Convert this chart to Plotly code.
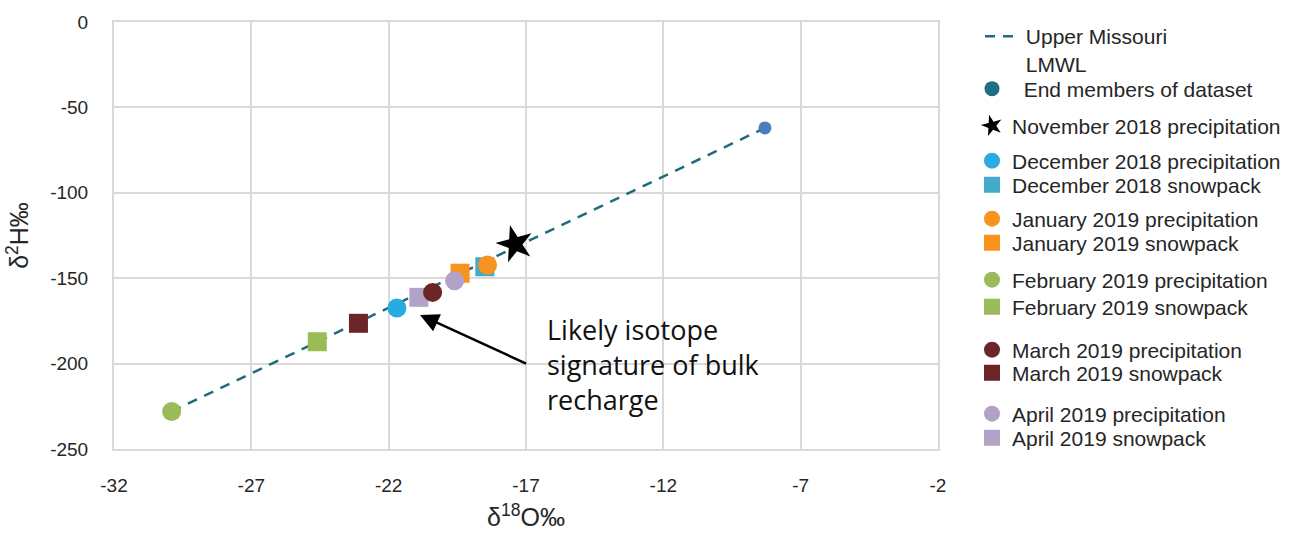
import plotly.graph_objects as go

# --- data -------------------------------------------------------------
# Upper Missouri LMWL end members (d18O, d2H)
END_X = [-29.9, -8.3]
END_Y = [-228.0, -62.0]

NOV_PRECIP_X = [-17.4]
NOV_PRECIP_Y = [-130.0]

DEC_PRECIP_X = [-21.7]
DEC_PRECIP_Y = [-167.5]
DEC_SNOW_X = [-18.5]
DEC_SNOW_Y = [-143.3]

JAN_PRECIP_X = [-18.4]
JAN_PRECIP_Y = [-142.3]
JAN_SNOW_X = [-19.4]
JAN_SNOW_Y = [-147.1]

FEB_PRECIP_X = [-29.9]
FEB_PRECIP_Y = [-228.0]
FEB_SNOW_X = [-24.6]
FEB_SNOW_Y = [-187.2]

MAR_PRECIP_X = [-20.4]
MAR_PRECIP_Y = [-158.3]
MAR_SNOW_X = [-23.1]
MAR_SNOW_Y = [-176.4]

APR_PRECIP_X = [-19.6]
APR_PRECIP_Y = [-151.5]
APR_SNOW_X = [-20.9]
APR_SNOW_Y = [-161.2]

X_TICKS = [-32, -27, -22, -17, -12, -7, -2]
Y_TICKS = [0, -50, -100, -150, -200, -250]

# --- layout helpers ---------------------------------------------------
L, R, T, B = 114, 351, 22, 85
W, H = 1289, 534
PW, PH = W - L - R, H - T - B


def px_x(p):
    return (p - L) / PW


def px_y(p):
    return (H - B - p) / PH


LEG_FONT = dict(family="Liberation Sans, Arial, sans-serif", size=21, color="#262626")
TICK_FONT = dict(family="Liberation Sans, Arial, sans-serif", size=19, color="#262626")

fig = go.Figure()
legends = {}


def add_legend(key, ypix, xpix=972, yanchor="middle"):
    legends[key] = dict(
        x=px_x(xpix), y=px_y(ypix), xref="paper", yref="paper",
        xanchor="left", yanchor=yanchor, bgcolor="rgba(0,0,0,0)",
        borderwidth=0, font=LEG_FONT, valign="top", itemclick=False,
        itemdoubleclick=False,
    )


# LMWL
fig.add_trace(go.Scatter(
    x=END_X, y=END_Y, mode="lines", name="\u00a0Upper Missouri<br>\u00a0LMWL",
    line=dict(color="#1F6B7B", width=2.5, dash="10px,8px"), legend="legend",
))
add_legend("legend", 16, xpix=980, yanchor="top")

# end members (marks on the chart)
fig.add_trace(go.Scatter(
    x=END_X, y=END_Y, mode="markers", showlegend=False,
    marker=dict(symbol="circle", size=13, color="#4A7DC0"),
))
# legend entry for the end members
fig.add_trace(go.Scatter(
    x=[None], y=[None], mode="markers", name="\u00a0\u00a0End members of dataset",
    marker=dict(symbol="circle", size=15, color="#236C86"), legend="legend2",
))
add_legend("legend2", 89)

SQ = 19
CI = 19

series = [
    # (name, x, y, symbol, color, size, legend key, legend y px)
    ("December 2018 snowpack", DEC_SNOW_X, DEC_SNOW_Y, "square", "#44AAC8", SQ, "legend5", 185),
    ("January 2019 snowpack", JAN_SNOW_X, JAN_SNOW_Y, "square", "#F7931E", SQ, "legend7", 243),
    ("February 2019 snowpack", FEB_SNOW_X, FEB_SNOW_Y, "square", "#9BBB59", SQ, "legend9", 307),
    ("March 2019 snowpack", MAR_SNOW_X, MAR_SNOW_Y, "square", "#6B2526", SQ, "legend11", 373),
    ("April 2019 snowpack", APR_SNOW_X, APR_SNOW_Y, "square", "#B3A2C7", SQ, "legend13", 438),
    ("December 2018 precipitation", DEC_PRECIP_X, DEC_PRECIP_Y, "circle", "#29ABE2", CI, "legend4", 161),
    ("January 2019 precipitation", JAN_PRECIP_X, JAN_PRECIP_Y, "circle", "#F7931E", CI, "legend6", 219),
    ("February 2019 precipitation", FEB_PRECIP_X, FEB_PRECIP_Y, "circle", "#9BBB59", CI, "legend8", 280),
    ("March 2019 precipitation", MAR_PRECIP_X, MAR_PRECIP_Y, "circle", "#6B2526", CI, "legend10", 350),
    ("April 2019 precipitation", APR_PRECIP_X, APR_PRECIP_Y, "circle", "#B3A2C7", CI, "legend12", 414),
]

for name, xs, ys, sym, col, size, lg, ly in series:
    fig.add_trace(go.Scatter(
        x=xs, y=ys, mode="markers", name=name, legend=lg,
        marker=dict(symbol=sym, size=size, color=col),
    ))
    add_legend(lg, ly)

fig.add_trace(go.Scatter(
    x=NOV_PRECIP_X, y=NOV_PRECIP_Y, mode="markers", name="November 2018 precipitation",
    legend="legend3",
    marker=dict(symbol="star", size=28, color="#000000", angle=-15),
))
add_legend("legend3", 126)

# annotation: arrow + text
fig.add_annotation(
    x=-20.86, y=-171.5, ax=-16.94, ay=-200.4, xref="x", yref="y", axref="x", ayref="y",
    text="", showarrow=True, arrowhead=2, arrowsize=1.5, arrowwidth=2.5, arrowcolor="#000000",
    standoff=0,
)
fig.add_annotation(
    x=-16.3, y=-200.4, xref="x", yref="y", xanchor="left", yanchor="middle", align="left",
    showarrow=False, text="Likely isotope<br>signature of bulk<br>recharge",
    font=dict(family="Open Sans, Lato, sans-serif", size=27, color="#111111"),
)

grid = dict(showgrid=True, gridcolor="#D9D9D9", gridwidth=2, zeroline=False,
            showline=True, linecolor="#D9D9D9", linewidth=2, mirror=True, ticks="")

fig.update_xaxes(
    range=[-32, -2], tickvals=X_TICKS, ticktext=[str(v) for v in X_TICKS],
    tickfont=TICK_FONT, ticklabelstandoff=18,
    title=dict(text="\u03b4<sup>18</sup>O\u2030", standoff=14,
               font=dict(family="Liberation Sans, Arial, sans-serif", size=25, color="#262626")),
    **grid,
)
fig.update_yaxes(
    range=[-250, 0], tickvals=Y_TICKS, ticktext=[str(v) for v in Y_TICKS],
    tickfont=TICK_FONT, ticklabelstandoff=20,
    title=dict(text="\u03b4<sup>2</sup>H\u2030", standoff=14,
               font=dict(family="Liberation Sans, Arial, sans-serif", size=25, color="#262626")),
    **grid,
)

fig.update_layout(
    width=W, height=H,
    margin=dict(l=L, r=R, t=T, b=B, autoexpand=False),
    paper_bgcolor="#FFFFFF", plot_bgcolor="#FFFFFF",
    **legends,
)

fig.write_html("out.html")
